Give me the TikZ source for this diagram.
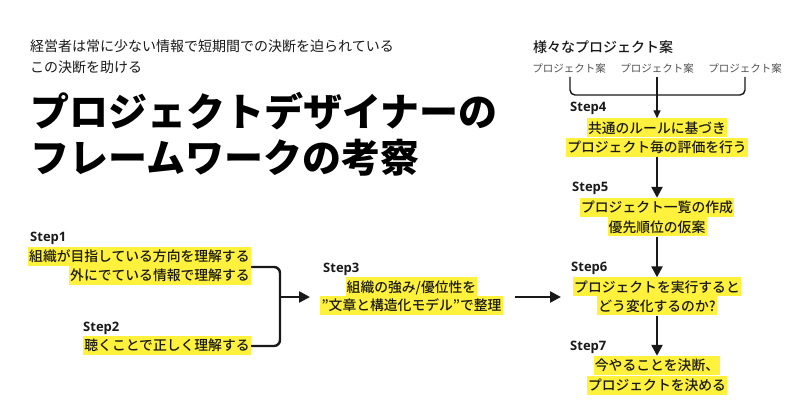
\documentclass[tikz,border=0pt]{standalone}
\usepackage{fontspec}
\usetikzlibrary{arrows.meta}
\newfontfamily\jp{Noto Sans CJK JP}
\newfontfamily\jpm{Noto Sans CJK JP}[UprightFont=* Medium, BoldFont=* Bold]
\newfontfamily\stf{Open Sans}
\definecolor{hly}{RGB}{255,241,60}
\definecolor{ink}{RGB}{25,25,25}
\definecolor{subg}{RGB}{80,80,80}
\tikzset{
  hl/.style={fill=hly, text=ink, font=\jpm\fontsize{13.8}{13.8}\selectfont, inner xsep=1.2pt, inner ysep=2.6pt, text height=12.1pt, text depth=1.7pt},
  hdr/.style={text=ink, font=\jp\fontsize{14}{14}\selectfont, inner sep=0pt, text height=12.3pt, text depth=1.7pt, anchor=west},
  ttl/.style={text=black, font=\jp\bfseries\fontsize{39}{39}\selectfont, inner sep=0pt, text height=34.3pt, text depth=4.7pt, anchor=west},
  steplbl/.style={text=ink, font=\stf\bfseries\fontsize{13}{13}\selectfont, inner sep=0pt, anchor=base west},
  sub/.style={text=subg, font=\jp\fontsize{10.5}{10.5}\selectfont, inner sep=0pt, text height=9.2pt, text depth=1.3pt},
  arr/.style={draw=ink, line width=2.4pt, -{Triangle[length=11pt,width=11pt]}},
  thinarr/.style={draw=ink, line width=1.4pt, -{Triangle[length=8pt,width=7pt]}},
  brk/.style={draw=ink, line width=2.4pt, rounded corners=6pt},
  thinbrk/.style={draw=ink, line width=1.4pt, rounded corners=5pt}
}
\begin{document}
\begin{tikzpicture}[x=1pt,y=-1pt]
\path[use as bounding box, fill=white] (0,0) rectangle (800,419);

% header
\node[hdr] (h1) at (30,46) {経営者は常に少ない情報で短期間での決断を迫られている};
\node[hdr] (h2) at (30,67) {この決断を助ける};
\node[ttl] (t1) at (30,112) {プロジェクトデザイナーの};
\node[ttl] (t2) at (30,158) {フレームワークの考察};

% Step1
\node[steplbl] (st1) at (30,242) {Step1};
\node[hl, anchor=east] (s1a) at (251,256.5) {組織が目指している方向を理解する};
\node[hl, anchor=east] (s1b) at (251,275.5) {外にでている情報で理解する};
% Step2
\node[steplbl] (st2) at (83,331) {Step2};
\node[hl, anchor=east] (s2a) at (251,345.5) {聴くことで正しく理解する};

% bracket
\coordinate (b1) at (251,267);
\coordinate (b2) at (251,346);
\coordinate (bj) at (280,297);
\coordinate (b3) at (310,297);
\draw[brk] (b1) -| (bj) |- (b2);
\draw[arr] (bj) -- (b3);

% Step3
\node[steplbl] (st3) at (323,272.5) {Step3};
\node[hl] (s3a) at (411.5,287) {組織の強み/優位性を};
\node[hl] (s3b) at (411.5,305.5) {”文章と構造化モデル”で整理};
\coordinate (c1) at (515,297);
\coordinate (c2) at (561,297);
\draw[arr] (c1) -- (c2);

% right column top
\node[hdr, font=\jpm\fontsize{14}{14}\selectfont] (v0) at (533,47) {様々なプロジェクト案};
\node[sub] (p1) at (569,69) {プロジェクト案};
\node[sub] (p2) at (657,69) {プロジェクト案};
\node[sub] (p3) at (745,69) {プロジェクト案};
\coordinate (q1) at (570,77);
\coordinate (q2) at (657,77);
\coordinate (q3) at (745,77);
\coordinate (qm) at (657,95);
\draw[thinbrk] (q1) |- (qm) -| (q3);

% Step4
\node[steplbl] (st4) at (570,112) {Step4};
\node[hl] (s4a) at (657,128) {共通のルールに基づき};
\node[hl] (s4b) at (657,147.5) {プロジェクト毎の評価を行う};
\draw[thinarr] (q2) -- (s4a.north);

% Step5
\node[steplbl] (st5) at (572,192) {Step5};
\node[hl] (s5a) at (657,207.5) {プロジェクト一覧の作成};
\node[hl] (s5b) at (657,227) {優先順位の仮案};
\draw[arr] (s4b.south) -- (s5a.north);

% Step6
\node[steplbl] (st6) at (571,272) {Step6};
\node[hl] (s6a) at (657,287) {プロジェクトを実行すると};
\node[hl] (s6b) at (657,306) {どう変化するのか?};
\draw[arr] (s5b.south) -- (s6a.north);

% Step7
\node[steplbl] (st7) at (570,351) {Step7};
\node[hl] (s7a) at (657,365.5) {今やることを決断、};
\node[hl] (s7b) at (657,385) {プロジェクトを決める};
\draw[arr] (s6b.south) -- (s7a.north);
\end{tikzpicture}
\end{document}
